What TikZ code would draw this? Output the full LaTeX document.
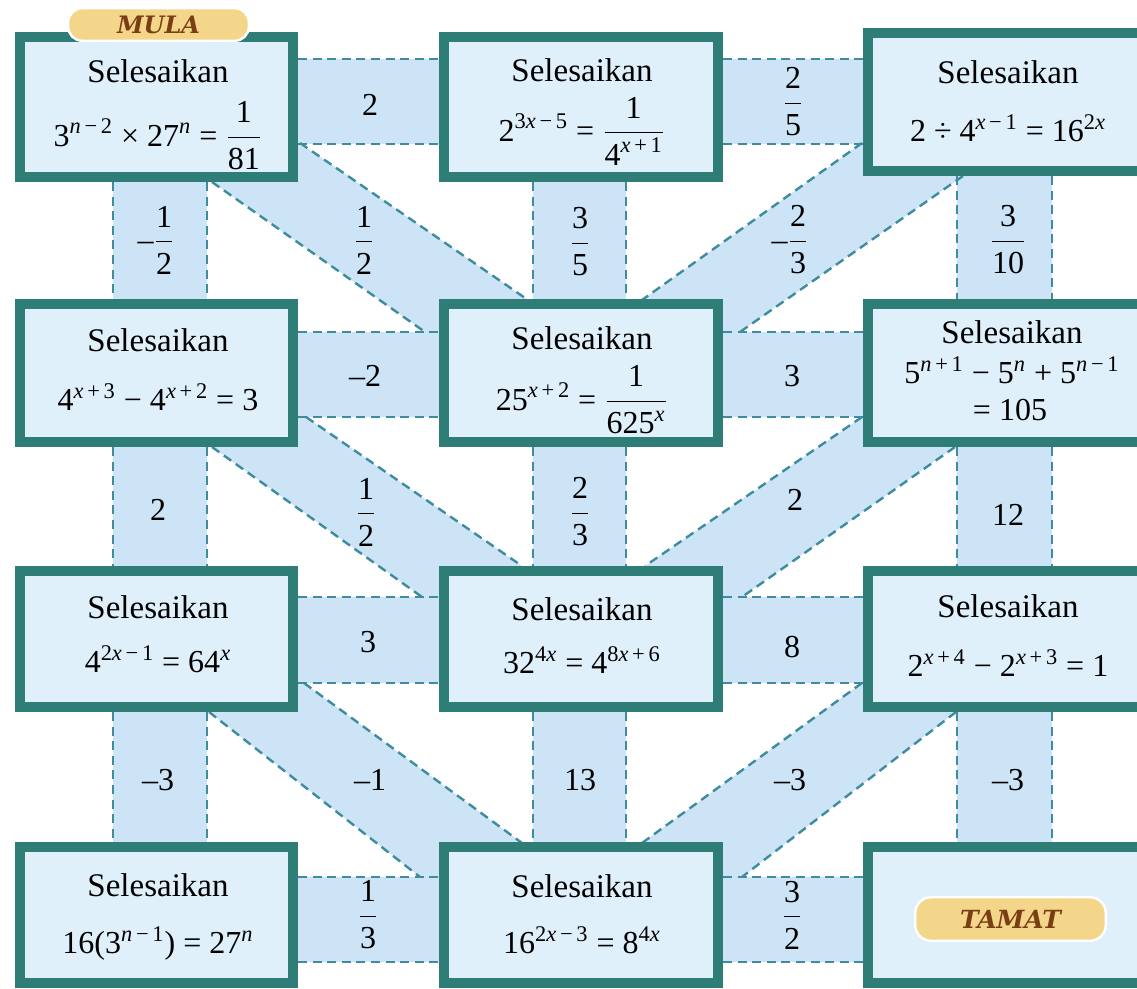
\documentclass[tikz,border=0pt]{standalone}
\usepackage{fontspec}
\usepackage{amsmath}
\setmainfont{Liberation Serif}
\newfontfamily\tabfont{DejaVu Serif}
\usetikzlibrary{calc}
\pgfdeclarelayer{bg}
\pgfsetlayers{bg,main}

\definecolor{boxline}{HTML}{2E7D76}
\definecolor{boxfill}{HTML}{E0F0FA}
\definecolor{stripfill}{HTML}{CCE4F6}
\definecolor{dashcol}{HTML}{3F8C9E}
\definecolor{tabfill}{HTML}{F3D68A}
\definecolor{tabtext}{HTML}{7A3E14}

\newcommand\up[1]{\textsuperscript{#1}}
\newcommand\fr[2]{$\dfrac{\text{#1}}{\text{#2}}$}
\newcommand\vn{\textit{n}}
\newcommand\vx{\textit{x}}

\begin{document}
\begin{tikzpicture}[x=0.5pt,y=-0.5pt,
  box/.style={draw=boxline, fill=boxfill, line width=5pt, inner sep=0pt,
              minimum width=137pt, minimum height=69pt},
  strip/.style={fill=stripfill},
  dashln/.style={draw=dashcol, line width=1.2pt, dash pattern=on 4.5pt off 2.8pt},
  head/.style={font=\fontsize{16.5}{19}\selectfont, inner sep=0pt, anchor=base},
  eq/.style={font=\fontsize{16}{19}\selectfont, inner sep=0pt, anchor=base},
  feq/.style={font=\fontsize{16}{19}\selectfont, inner sep=0pt},
  lab/.style={font=\fontsize{16}{19}\selectfont, inner sep=0pt},
  tabsty/.style={draw=white, line width=1.2pt, fill=tabfill, text=tabtext,
                 font=\tabfont\bfseries\itshape, inner sep=0pt}
]
\useasboundingbox (0,0) rectangle (1137,989);
\clip (0,0) rectangle (1137,989);

% ---------- puzzle cells ----------
\node[box, minimum width=136.5pt, minimum height=70pt] (b11) at (156.5,107) {};
\node[box, minimum height=70pt] (b12) at (581,107) {};
\node[box, minimum width=144pt] (b13) at (1012,102) {};
\node[box, minimum width=136.5pt] (b21) at (156.5,373) {};
\node[box] (b22) at (581,373) {};
\node[box, minimum width=144pt] (b23) at (1012,373) {};
\node[box, minimum width=136.5pt, minimum height=68pt] (b31) at (156.5,639) {};
\node[box, minimum height=68pt] (b32) at (581,639) {};
\node[box, minimum width=144pt, minimum height=68pt] (b33) at (1012,639) {};
\node[box, minimum width=136.5pt, minimum height=68pt] (b41) at (156.5,915) {};
\node[box, minimum height=68pt] (b42) at (581,915) {};
\node[box, minimum width=144pt, minimum height=68pt] (b43) at (1012,915) {};

% ---------- band edges ----------
\coordinate (h1t) at (0,59);  \coordinate (h1b) at (0,144);
\coordinate (h2t) at (0,332); \coordinate (h2b) at (0,417);
\coordinate (h3t) at (0,597); \coordinate (h3b) at (0,683);
\coordinate (h4t) at (0,877); \coordinate (h4b) at (0,962);
\coordinate (v1l) at (113,0); \coordinate (v1r) at (207,0);
\coordinate (v2l) at (533,0); \coordinate (v2r) at (626,0);
\coordinate (v3l) at (957,0); \coordinate (v3r) at (1052,0);

% diagonal band edges: u = upper edge, l = lower edge
\coordinate (d1u1) at (300,143); \coordinate (d1u2) at (528,300);
\coordinate (d1l1) at (212,182); \coordinate (d1l2) at (425,332);
\coordinate (d2u1) at (862,143); \coordinate (d2u2) at (642,300);
\coordinate (d2l1) at (963,176); \coordinate (d2l2) at (740,332);
\coordinate (d3u1) at (306,417); \coordinate (d3u2) at (522,566);
\coordinate (d3l1) at (212,447); \coordinate (d3l2) at (422,597);
\coordinate (d4u1) at (862,417); \coordinate (d4u2) at (645,566);
\coordinate (d4l1) at (955,447); \coordinate (d4l2) at (742,597);
\coordinate (d5u1) at (304,683); \coordinate (d5u2) at (522,843);
\coordinate (d5l1) at (209,712); \coordinate (d5l2) at (420,877);
\coordinate (d6u1) at (862,683); \coordinate (d6u2) at (642,843);
\coordinate (d6l1) at (956,712); \coordinate (d6l2) at (742,877);

\begin{pgfonlayer}{bg}
  % band fills
  \foreach \rr in {1,...,4}{
    \foreach \ca/\cb in {1/2,2/3}{
      \fill[strip] (b\rr\ca.center |- h\rr t) rectangle (b\rr\cb.center |- h\rr b);
    }
  }
  \foreach \col in {1,2,3}{
    \foreach \ra/\rb in {1/2,2/3,3/4}{
      \fill[strip] (v\col l |- b\ra\col.center) rectangle (v\col r |- b\rb\col.center);
    }
  }
  \foreach \d in {1,...,6}{
    \fill[strip] ($(d\d u1)!-0.2!(d\d u2)$) -- ($(d\d u1)!1.2!(d\d u2)$)
      -- ($(d\d l1)!1.2!(d\d l2)$) -- ($(d\d l1)!-0.2!(d\d l2)$) -- cycle;
  }
  % dashed band edges
  \foreach \rr in {1,...,4}{
    \foreach \ca/\cb in {1/2,2/3}{
      \draw[dashln] (b\rr\ca.east |- h\rr t) -- (b\rr\cb.west |- h\rr t);
      \draw[dashln] (b\rr\ca.east |- h\rr b) -- (b\rr\cb.west |- h\rr b);
    }
  }
  \foreach \col in {1,2,3}{
    \foreach \ra/\rb in {1/2,2/3,3/4}{
      \draw[dashln] (v\col l |- b\ra\col.south) -- (v\col l |- b\rb\col.north);
      \draw[dashln] (v\col r |- b\ra\col.south) -- (v\col r |- b\rb\col.north);
    }
  }
  \foreach \d in {1,...,6}{
    \draw[dashln] (d\d u1) -- (d\d u2);
    \draw[dashln] (d\d l1) -- (d\d l2);
  }
\end{pgfonlayer}

% ---------- cell texts ----------
\node[head] (t11) at (158,83) {Selesaikan};
\node[feq]  (e11) at (158,136) {3\up{\vn\,−\,2} × 27\up{\vn} = \fr{1}{81}};
\node[head] (t12) at (582,82) {Selesaikan};
\node[feq]  (e12) at (582,131) {2\up{3\vx\,−\,5} = \fr{1}{4\up{\vx\,+\,1}}};
\node[head] (t13) at (1008,84) {Selesaikan};
\node[eq]   (e13) at (1008,142) {2 ÷ 4\up{\vx\,−\,1} = 16\up{2\vx}};

\node[head] (t21) at (158,352) {Selesaikan};
\node[eq]   (e21) at (158,411) {4\up{\vx\,+\,3} − 4\up{\vx\,+\,2} = 3};
\node[head] (t22) at (582,350) {Selesaikan};
\node[feq]  (e22) at (582,400) {25\up{\vx\,+\,2} = \fr{1}{625\up{\vx}}};
\node[head] (t23) at (1012,344) {Selesaikan};
\node[eq]   (e23) at (1012,384) {5\up{\vn\,+\,1} − 5\up{\vn} + 5\up{\vn\,−\,1}};
\node[eq]   (f23) at (1010,421) {= 105};

\node[head] (t31) at (158,619) {Selesaikan};
\node[eq]   (e31) at (158,673) {4\up{2\vx\,−\,1} = 64\up{\vx}};
\node[head] (t32) at (582,621) {Selesaikan};
\node[eq]   (e32) at (582,674) {32\up{4\vx} = 4\up{8\vx\,+\,6}};
\node[head] (t33) at (1008,618) {Selesaikan};
\node[eq]   (e33) at (1008,677) {2\up{\vx\,+\,4} − 2\up{\vx\,+\,3} = 1};

\node[head] (t41) at (158,897) {Selesaikan};
\node[eq]   (e41) at (158,954) {16(3\up{\vn\,−\,1}) = 27\up{\vn}};
\node[head] (t42) at (582,898) {Selesaikan};
\node[eq]   (e42) at (582,954) {16\up{2\vx\,−\,3} = 8\up{4\vx}};

% ---------- band labels ----------
\node[lab] (lh1a) at (370,105) {2};
\node[lab] (lh1b) at (793,102) {\fr{2}{5}};
\node[lab] (lh2a) at (365,376) {–2};
\node[lab] (lh2b) at (792,376) {3};
\node[lab] (lh3a) at (368,642) {3};
\node[lab] (lh3b) at (792,647) {8};
\node[lab] (lh4a) at (368,915) {\fr{1}{3}};
\node[lab] (lh4b) at (792,915) {\fr{3}{2}};

\node[lab] (lv1a) at (156,240) {–\fr{1}{2}};
\node[lab] (lv2a) at (580,242) {\fr{3}{5}};
\node[lab] (lv3a) at (1008,240) {\fr{3}{10}};
\node[lab] (lv1b) at (158,510) {2};
\node[lab] (lv2b) at (580,512) {\fr{2}{3}};
\node[lab] (lv3b) at (1008,515) {12};
\node[lab] (lv1c) at (158,780) {–3};
\node[lab] (lv2c) at (580,780) {13};
\node[lab] (lv3c) at (1008,780) {–3};

\node[lab] (ld1) at (364,240) {\fr{1}{2}};
\node[lab] (ld2) at (790,240) {–\fr{2}{3}};
\node[lab] (ld3) at (366,512) {\fr{1}{2}};
\node[lab] (ld4) at (795,500) {2};
\node[lab] (ld5) at (370,780) {–1};
\node[lab] (ld6) at (790,780) {–3};

% ---------- start and finish tags ----------
\node[tabsty, rounded corners=7pt, minimum width=90.3pt, minimum height=16.3pt,
      font=\tabfont\bfseries\itshape\fontsize{12}{14}\selectfont] (mula) at (158.5,24.5) {MULA};
\node[tabsty, rounded corners=8pt, minimum width=95.3pt, minimum height=21.8pt,
      font=\tabfont\bfseries\itshape\fontsize{12.5}{14}\selectfont] (tamat) at (1010.5,919) {TAMAT};
\end{tikzpicture}
\end{document}
